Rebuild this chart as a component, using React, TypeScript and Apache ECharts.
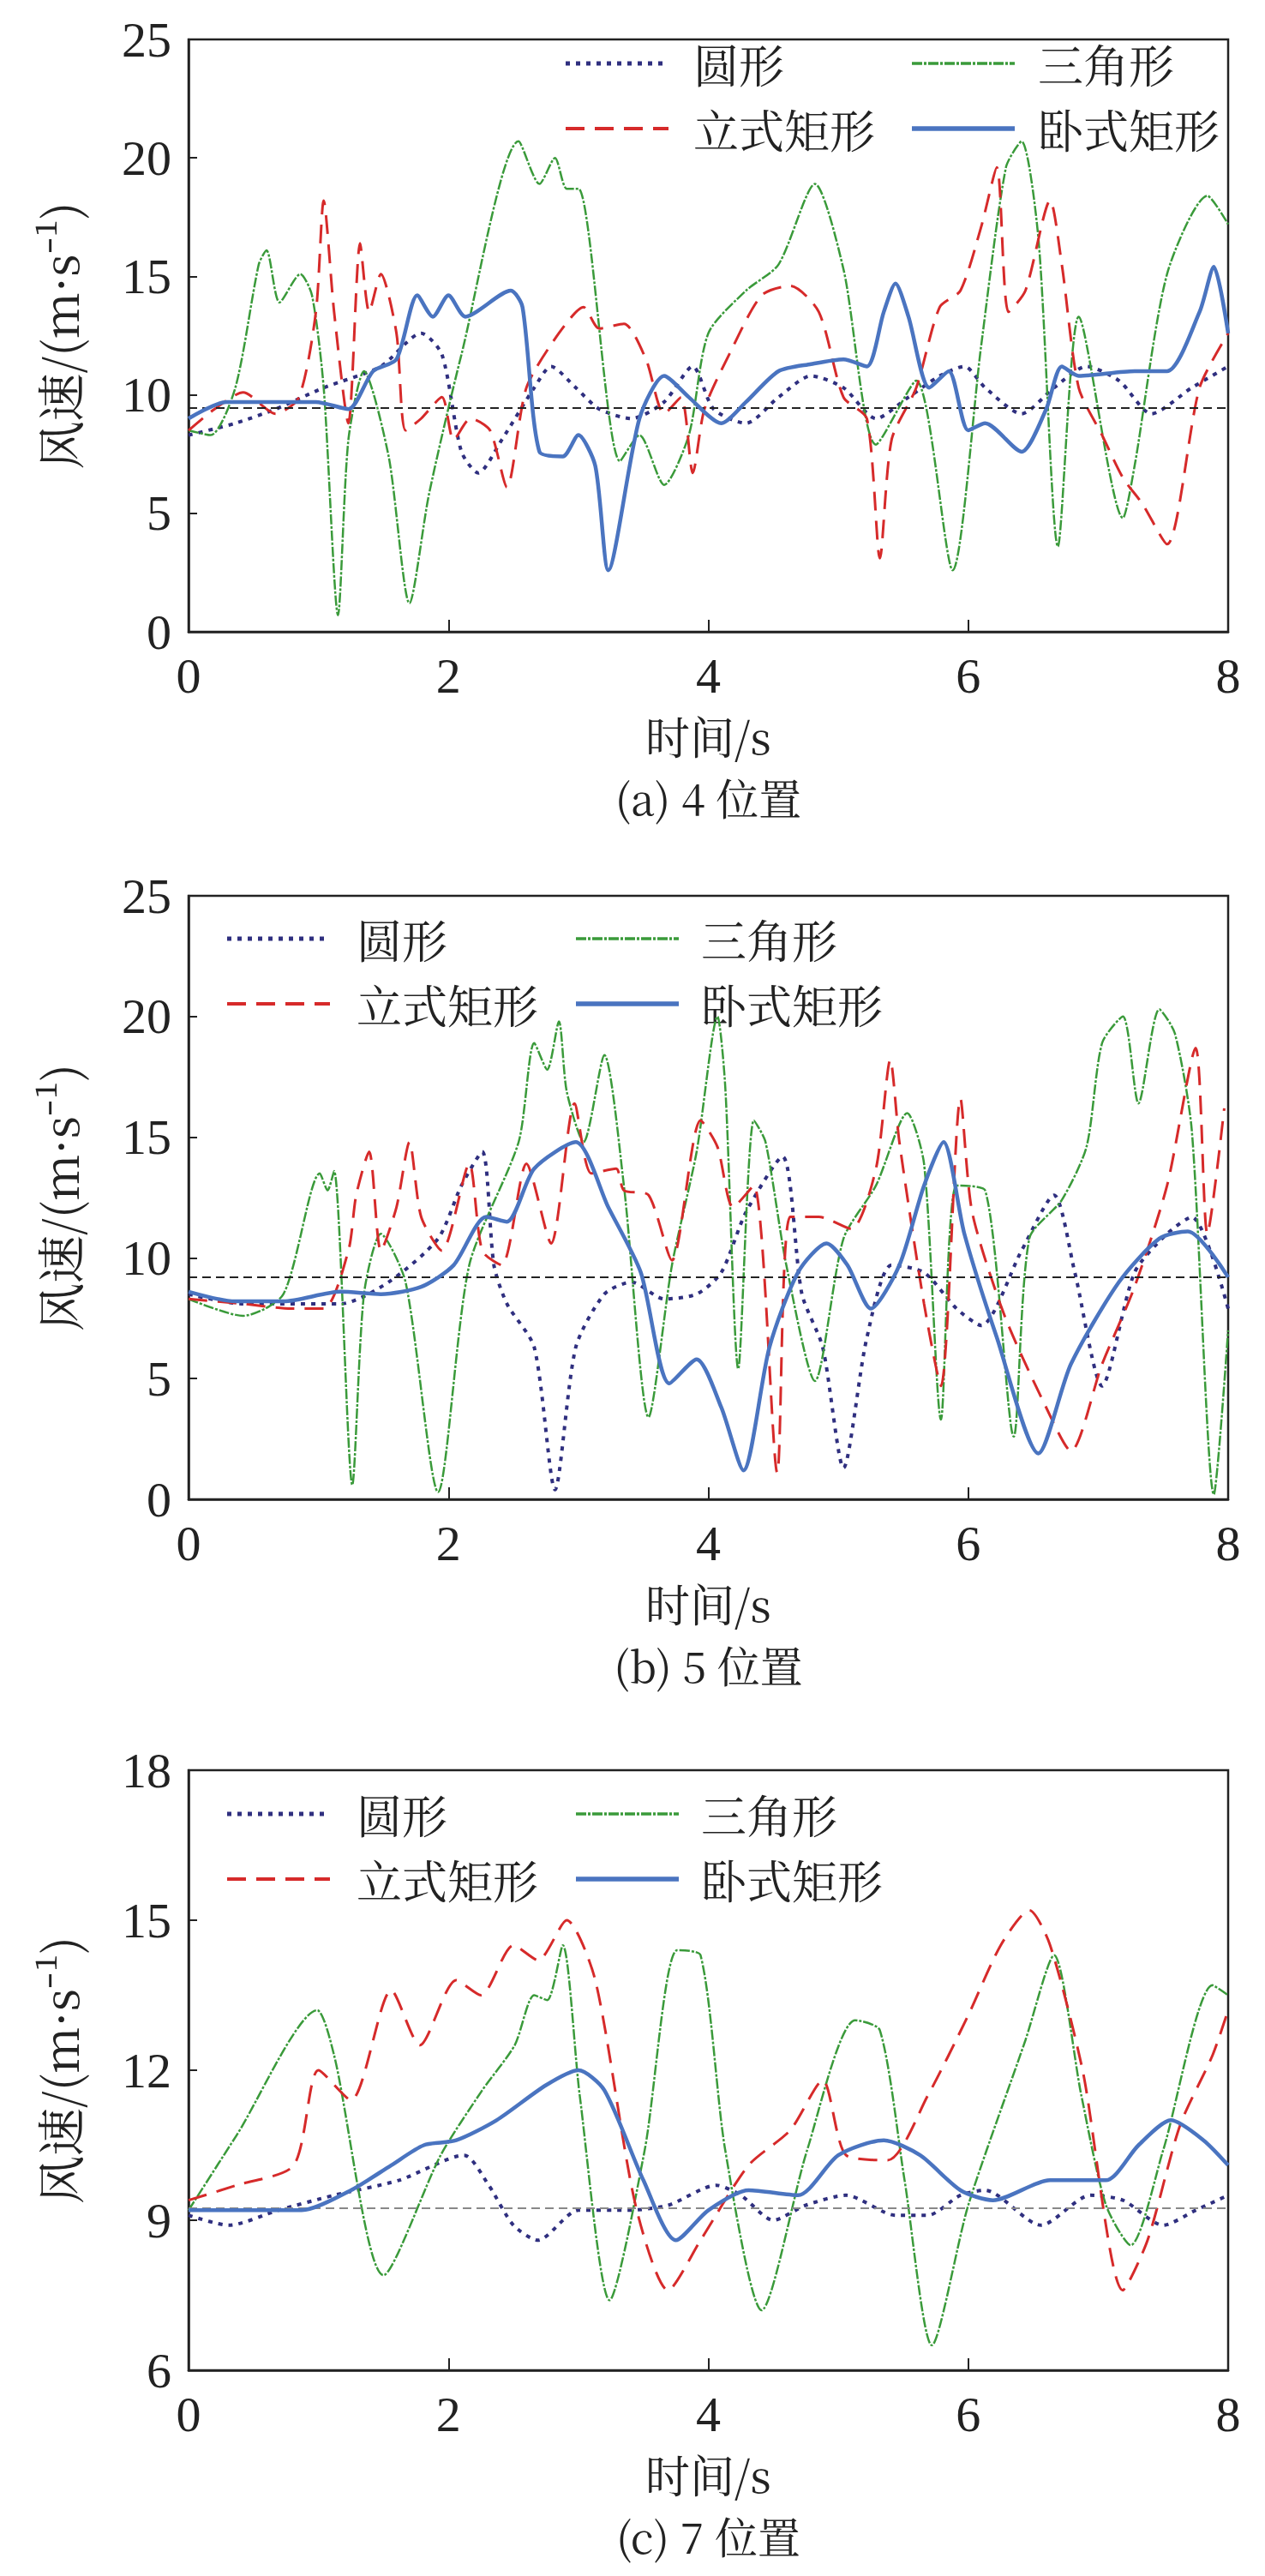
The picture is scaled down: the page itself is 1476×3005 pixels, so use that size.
import React, { useEffect, useRef } from 'react';
import * as echarts from 'echarts';

// [time s, wind speed m/s] points
const aCircle = [[0,8.3],[0.36,8.8],[0.67,9.4],[1.04,10.3],[1.48,11.2],[1.79,12.6],[1.95,11.7],[2.1,7.6],[2.23,6.7],[2.41,8.1],[2.66,10.3],[2.79,11.2],[2.98,10.3],[3.16,9.4],[3.41,9],[3.66,9.7],[3.88,11.2],[4.04,9.4],[4.29,8.8],[4.54,9.9],[4.79,10.8],[5.04,10.3],[5.29,9],[5.54,9.9],[5.78,10.8],[5.97,11.2],[6.13,10.3],[6.41,9.2],[6.66,10.3],[6.91,11.2],[7.16,10.6],[7.41,9.2],[7.72,10.3],[8,11.2]];
const aTri = [[0,8.5],[0.17,8.3],[0.36,10.3],[0.54,15.5],[0.6,16.1],[0.7,13.9],[0.86,15.1],[0.95,14.2],[1.04,10.3],[1.15,0.7],[1.23,8.1],[1.35,11],[1.54,7.4],[1.7,1.2],[1.85,5.8],[2.1,11.7],[2.54,20.7],[2.7,18.9],[2.82,20],[2.91,18.7],[3.0,18.7],[3.32,7.2],[3.47,8.3],[3.66,6.2],[3.85,8.3],[4.0,12.6],[4.29,14.4],[4.54,15.5],[4.82,18.9],[5.04,15.3],[5.29,7.9],[5.6,10.6],[5.88,2.6],[6.1,12.1],[6.29,19.6],[6.41,20.7],[6.54,16.6],[6.69,3.6],[6.85,13.3],[7.19,4.8],[7.28,7],[7.53,15.1],[7.84,18.4],[8,17.2]];
const aVRect = [[0,8.5],[0.2,9.4],[0.42,10.1],[0.67,9.2],[0.85,9.9],[0.98,13.5],[1.04,18.2],[1.12,13.5],[1.23,8.8],[1.32,16.4],[1.39,13.5],[1.48,15.1],[1.6,12.6],[1.67,8.5],[1.79,9],[1.95,9.9],[2.04,8.1],[2.17,9],[2.32,8.5],[2.45,6.1],[2.6,10.3],[2.85,12.6],[3.04,13.7],[3.16,12.8],[3.35,13],[3.52,11.5],[3.66,9.2],[3.79,9.9],[3.88,6.7],[3.97,9.4],[4.16,11.7],[4.41,14.2],[4.63,14.6],[4.85,13.5],[5.04,9.9],[5.22,9],[5.32,3.1],[5.41,8.1],[5.6,10.3],[5.78,13.7],[5.94,14.4],[6.1,17.1],[6.22,19.6],[6.31,13.5],[6.44,14.4],[6.63,18.2],[6.72,15.5],[6.85,10.3],[7.03,8.3],[7.19,6.5],[7.34,5.4],[7.53,3.7],[7.78,10.3],[8,12.6]];
const aHRect = [[0,9],[0.29,9.7],[0.6,9.7],[0.98,9.7],[1.23,9.4],[1.42,11],[1.6,11.5],[1.76,14.2],[1.88,13.3],[2.0,14.2],[2.13,13.3],[2.48,14.4],[2.57,13.7],[2.7,7.6],[2.88,7.4],[3.0,8.3],[3.13,7],[3.23,2.6],[3.47,9],[3.66,10.8],[3.85,9.9],[4.1,8.8],[4.29,9.7],[4.54,11],[4.79,11.3],[5.04,11.5],[5.22,11.2],[5.35,13.5],[5.44,14.7],[5.54,13.3],[5.7,10.3],[5.85,11],[6.0,8.5],[6.13,8.8],[6.41,7.6],[6.6,9.4],[6.72,11.2],[6.85,10.8],[7.28,11],[7.53,11],[7.78,13.5],[7.89,15.4],[8,12.6]];

const bCircle = [[0,8.5],[0.42,8.1],[1.17,8.1],[1.54,9],[1.92,10.8],[2.1,13],[2.26,14.4],[2.35,9.7],[2.45,8.1],[2.66,6.3],[2.82,0.4],[2.98,6.3],[3.2,8.5],[3.41,9],[3.66,8.3],[3.91,8.5],[4.1,9.4],[4.29,11.9],[4.57,14.2],[4.72,8.5],[4.88,6.3],[5.04,1.3],[5.22,6.7],[5.41,9.7],[5.66,9.4],[5.91,7.9],[6.1,7.2],[6.41,10.3],[6.66,12.6],[6.82,9.4],[7.03,4.7],[7.28,9.4],[7.53,11],[7.72,11.7],[8,7.9]];
const bTri = [[0,8.3],[0.42,7.6],[0.73,8.5],[1.01,13.5],[1.07,12.8],[1.12,13.6],[1.26,0.6],[1.35,8.5],[1.48,11],[1.67,9],[1.92,0.3],[2.16,9.7],[2.54,14.8],[2.66,18.9],[2.76,17.8],[2.85,19.8],[2.91,16.9],[3.04,14.8],[3.2,18.4],[3.35,13],[3.54,3.4],[3.72,9.7],[3.91,14.4],[4.07,20],[4.13,17.1],[4.23,5.4],[4.35,15.7],[4.44,14.8],[4.6,9.7],[4.82,4.9],[5.04,10.8],[5.29,13],[5.53,16],[5.66,13.9],[5.79,3.3],[5.91,13],[6.13,12.8],[6.35,2.6],[6.47,10.8],[6.72,12.4],[6.91,14.6],[7.03,18.9],[7.19,20],[7.31,16.4],[7.47,20.3],[7.59,19.3],[7.72,15.3],[7.89,0.2],[8,7]];
const bVRect = [[0,8.3],[0.42,8.1],[0.79,7.9],[1.04,7.9],[1.23,10.3],[1.29,12.6],[1.39,14.4],[1.48,10.3],[1.6,12.1],[1.7,14.8],[1.79,11.7],[1.95,10.3],[2.16,13.9],[2.26,10.3],[2.41,9.7],[2.6,13.9],[2.79,10.6],[2.97,16.4],[3.1,13.5],[3.29,13.7],[3.35,12.8],[3.54,12.6],[3.72,9.9],[3.94,15.7],[4.07,14.6],[4.19,12.1],[4.35,13],[4.53,1.1],[4.63,11.7],[4.85,11.7],[5.1,11.2],[5.29,13.7],[5.4,18.2],[5.47,14.8],[5.66,8.1],[5.79,4.7],[5.94,16.6],[6.03,11.9],[6.28,7.6],[6.6,3.8],[6.79,2],[7.03,5.6],[7.28,8.8],[7.53,13],[7.75,18.7],[7.84,11],[7.97,16.2]];
const bHRect = [[0,8.6],[0.36,8.2],[0.73,8.2],[1.17,8.6],[1.48,8.5],[1.79,8.8],[2.04,9.7],[2.29,11.7],[2.45,11.5],[2.66,13.7],[2.98,14.8],[3.23,12.1],[3.48,9.4],[3.7,4.8],[3.91,5.8],[4.1,3.8],[4.27,1.2],[4.47,6.3],[4.69,9.4],[4.91,10.6],[5.07,9.7],[5.25,7.9],[5.47,9.7],[5.66,13],[5.81,14.8],[5.97,11],[6.22,6.7],[6.54,1.9],[6.79,5.6],[7.16,9],[7.47,10.8],[7.69,11.1],[8,9.2]];

const cCircle = [[0,9.1],[0.31,8.9],[0.69,9.2],[1.12,9.5],[1.62,9.8],[2.12,10.3],[2.31,9.7],[2.5,8.9],[2.69,8.6],[3.0,9.2],[3.38,9.2],[3.69,9.3],[4.06,9.7],[4.25,9.5],[4.5,9],[4.75,9.3],[5.06,9.5],[5.44,9.1],[5.69,9.1],[5.94,9.5],[6.13,9.6],[6.56,8.9],[6.94,9.5],[7.19,9.4],[7.5,8.9],[7.75,9.2],[8,9.5]];
const cTri = [[0,9.2],[0.37,10.7],[0.99,13.2],[1.12,12.3],[1.5,7.9],[1.94,10.3],[2.26,11.6],[2.51,12.5],[2.66,13.5],[2.76,13.4],[2.88,14.5],[3.01,11.5],[3.24,7.4],[3.51,10.4],[3.76,14.4],[3.94,14.3],[4.13,10.4],[4.41,7.2],[4.76,10.4],[5.13,13],[5.32,12.8],[5.51,9.8],[5.72,6.5],[6.0,9.3],[6.44,12.6],[6.66,14.3],[6.87,11.5],[7.06,9.3],[7.25,8.5],[7.5,10.4],[7.88,13.7],[8,13.5]];
const cVRect = [[0,9.4],[0.37,9.7],[0.81,10.1],[1.0,12],[1.25,11.4],[1.56,13.6],[1.78,12.5],[2.06,13.8],[2.25,13.5],[2.5,14.5],[2.69,14.2],[2.91,15],[3.13,13.8],[3.44,9.3],[3.69,7.6],[3.94,8.6],[4.31,10.1],[4.63,10.8],[4.88,11.8],[5.06,10.3],[5.38,10.2],[5.69,11.5],[6.0,13.1],[6.25,14.5],[6.47,15.2],[6.63,14.5],[6.88,12],[7.19,7.6],[7.38,8.6],[7.63,10.9],[7.88,12.3],[8,13.2]];
const cHRect = [[0,9.2],[0.37,9.2],[0.87,9.2],[1.25,9.6],[1.56,10.1],[1.81,10.5],[2.06,10.6],[2.37,11],[2.75,11.7],[3.0,12],[3.2,11.6],[3.5,9.8],[3.75,8.6],[4.0,9.2],[4.31,9.6],[4.69,9.5],[5.0,10.3],[5.35,10.6],[5.63,10.3],[5.94,9.6],[6.19,9.4],[6.63,9.8],[7.06,9.8],[7.31,10.5],[7.56,11],[7.81,10.6],[8,10.1]];

const refLines = [9.44, 9.2, 9.24];
const yRanges = [[0, 25, 5], [0, 25, 5], [6, 18, 3]];
const captions = ['(a) 4 位置', '(b) 5 位置', '(c) 7 位置'];
const seriesNames = ['圆形', '三角形', '立式矩形', '卧式矩形'];

const panelData = [
  [aCircle, aTri, aVRect, aHRect],
  [bCircle, bTri, bVRect, bHRect],
  [cCircle, cTri, cVRect, cHRect],
];

const FONT = '"Liberation Serif", "Noto Sans CJK SC", serif';
const CJK = '"Noto Serif CJK SC", "Noto Sans CJK SC", serif';

const grids = [
  { left: 212, top: 38, width: 1213, height: 691 },
  { left: 212, top: 1037, width: 1213, height: 704 },
  { left: 212, top: 2057, width: 1213, height: 700 },
];

const styles = [
  { color: '#2f2f7f', width: 4, type: [5, 7] },
  { color: '#3a9a3a', width: 2.5, type: [12, 2, 3, 2] },
  { color: '#d62a2a', width: 3, type: [22, 12] },
  { color: '#4a74c0', width: 4.5, type: 'solid' },
];

// legend positions per panel: [line x0 col1, text x col1, line x0 col2, text x col2, row1 y, row2 y]
const legendPos = [
  [652, 801, 1056, 1203, 66, 142],
  [257, 408, 664, 810, 1087, 1163],
  [257, 408, 664, 810, 2108, 2184],
];

const App: React.FC = () => {
  const ref = useRef<HTMLDivElement>(null);

  useEffect(() => {
    if (!ref.current) return;
    const chart = echarts.init(ref.current, undefined, { renderer: 'svg' });

    const series: any[] = [];
    const graphic: any[] = [];
    panelData.forEach((lines, p) => {
      lines.forEach((d, i) => {
        series.push({
          type: 'line',
          name: seriesNames[i] + p,
          xAxisIndex: p,
          yAxisIndex: p,
          data: d,
          showSymbol: false,
          smooth: 0.25,
          z: i === 3 ? 5 : 3,
          lineStyle: styles[i],
          markLine: i === 0 ? {
            silent: true,
            symbol: 'none',
            label: { show: false },
            lineStyle: { color: p === 2 ? '#888' : '#222', type: [10, 6], width: 2 },
            data: [{ yAxis: refLines[p] }],
          } : undefined,
        });
      });
      const g = grids[p];
      const lp = legendPos[p];
      const cols = [[lp[0], lp[1]], [lp[2], lp[3]]];
      [0, 1, 2, 3].forEach((i) => {
        const [lx, tx] = cols[i % 2];
        const y = i < 2 ? lp[4] : lp[5];
        graphic.push({
          type: 'line', shape: { x1: lx, y1: y, x2: lx + 120, y2: y },
          style: { stroke: styles[i].color, lineWidth: styles[i].width + 1, lineDash: styles[i].type === 'solid' ? null : styles[i].type },
        });
        graphic.push({
          type: 'text', x: tx, y, style: { text: seriesNames[i], font: `53px ${CJK}`, fill: '#222', verticalAlign: 'middle' },
        });
      });
      graphic.push({
        type: 'text', x: 60, y: g.top + g.height / 2, rotation: Math.PI / 2,
        style: { text: '风速/(m·s⁻¹)', font: `56px ${CJK}`, fill: '#222', align: 'center', verticalAlign: 'middle' },
      });
      graphic.push({
        type: 'text', x: g.left + g.width / 2, y: g.top + g.height + 120,
        style: { text: '时间/s', font: `52px ${CJK}`, fill: '#222', align: 'center', verticalAlign: 'middle' },
      });
      graphic.push({
        type: 'text', x: g.left + g.width / 2, y: g.top + g.height + 192,
        style: { text: captions[p], font: `50px ${CJK}`, fill: '#222', align: 'center', verticalAlign: 'middle' },
      });
    });

    chart.setOption({
      animation: false,
      backgroundColor: '#fff',
      grid: grids.map((g) => ({ ...g, show: true, borderColor: '#222', borderWidth: 2.5 })),
      xAxis: grids.map((_, p) => ({
        type: 'value', gridIndex: p, min: 0, max: 8, interval: 2,
        axisLine: { lineStyle: { color: '#222', width: 2.5 } },
        axisTick: { inside: true, length: 14, lineStyle: { color: '#222', width: 2 } },
        splitLine: { show: false },
        axisLabel: { color: '#222', fontFamily: FONT, fontSize: 58, margin: 22 },
      })),
      yAxis: grids.map((_, p) => ({
        type: 'value', gridIndex: p, min: yRanges[p][0], max: yRanges[p][1], interval: yRanges[p][2],
        axisLine: { show: true, lineStyle: { color: '#222', width: 2.5 } },
        axisTick: { show: true, inside: true, length: 10, lineStyle: { color: '#222', width: 2 } },
        splitLine: { show: false },
        axisLabel: { color: '#222', fontFamily: FONT, fontSize: 58, margin: 20 },
      })),
      series,
      graphic,
    });
    return () => chart.dispose();
  }, []);

  return <div ref={ref} style={{ width: 1460, height: 2990 }} />;
};

export default App;
